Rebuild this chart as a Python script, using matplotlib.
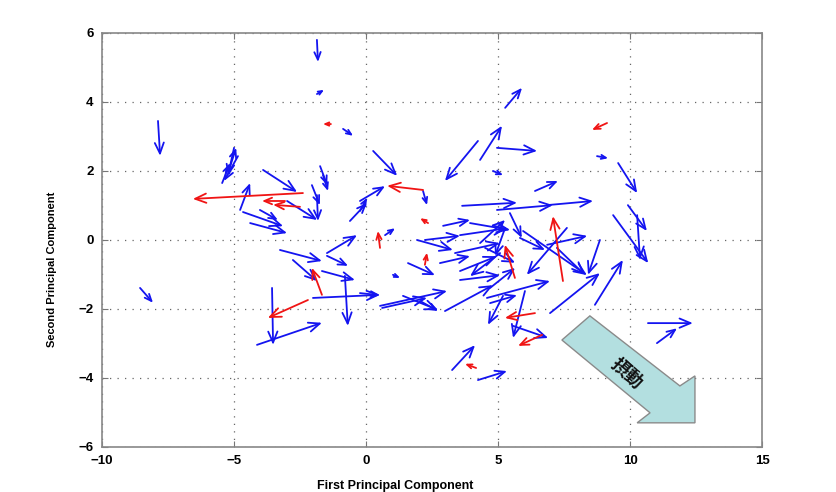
import numpy as np
import matplotlib
matplotlib.use("Agg")
import matplotlib.pyplot as plt
from matplotlib.patches import Polygon

# ---- data ----
blue_x = [-1.86, -1.86, -0.87, -7.88, -5.19, -4.85, -5.45, -5.00, -4.77, -3.90,
          -2.99, -1.74, -1.63, -2.05, -1.86, -4.66, -4.39, -4.02, -0.61, -0.23,
          2.16, 0.72, 1.02, 1.59, -0.23, 0.61, 1.40, 2.99, 3.56, 3.56,
          4.58, 5.19, 6.02, 5.57, 3.26, 4.24, 10.68, 11.02, 5.27, 4.32,
          4.24, 4.96, 0.27, 8.75, 9.55, 4.81, 6.40, 3.64, 4.96, 6.86,
          9.92, 9.36, 10.27, 8.86, 7.23, 6.97, 8.67, 6.86, 2.92, 2.23,
          5.95, 7.61, 1.93, 3.56, 0.53, 2.05, 4.70, -3.26, -2.77, -1.48,
          -1.48, -1.67, -2.01, -0.80, -3.56, -4.13, -8.56, 3.94, 4.32, 5.27,
          4.51, 5.08, 5.83, 3.37, 5.45, -0.23, 2.80, 4.70]
blue_y = [5.80, 4.23, 3.22, 3.45, 2.03, 2.43, 1.65, 2.67, 0.87, 2.03,
          1.13, 2.14, 1.88, 1.59, 1.30, 0.81, 0.49, 0.87, 0.55, 1.13,
          1.42, 0.14, -1.01, -0.67, -1.54, -1.97, -1.62, -2.06, -1.16, -0.90,
          -1.68, -1.62, -1.48, -2.49, -3.77, -4.06, -2.41, -2.99, 3.83, 2.32,
          2.87, 2.67, 2.58, 2.43, 2.23, 2.00, 1.42, 0.99, 0.87, 1.01,
          1.01, 0.72, 0.72, 0.00, -0.23, -2.12, -1.88, -0.14, 0.41, 0.00,
          0.26, 0.35, 0.00, 0.14, -1.91, -1.77, -1.83, -0.29, -0.58, -0.38,
          -0.46, -0.90, -1.68, -1.04, -1.39, -3.04, -1.39, 0.49, -0.09, 0.35,
          -0.23, -0.38, 0.06, -0.38, 0.78, 0.84, -0.67, -1.39]
blue_u = [0.04, 0.27, 0.38, 0.08, 0.27, -0.53, 0.30, -0.23, 0.38, 1.29,
          1.14, 0.27, 0.19, 0.30, 0.04, 1.52, 1.40, 0.68, 0.64, 0.95,
          0.15, 0.38, 0.27, 1.02, 0.76, 1.70, 1.33, 1.82, 1.52, 1.40,
          2.39, -0.57, -0.45, 1.33, 0.87, 1.10, 1.70, 0.76, 0.64, 0.83,
          -1.25, 1.52, 0.91, 0.42, 0.72, 0.38, 0.87, 2.08, 2.12, 1.74,
          0.72, 1.33, 0.11, -0.45, 1.06, 1.89, 1.06, 1.52, 1.02, 1.33,
          2.42, -1.52, 1.36, 1.78, 2.54, 0.68, 1.02, 1.59, 0.91, 1.14,
          0.80, 1.25, 2.54, 0.11, 0.04, 2.46, 0.49, 1.52, 0.95, -0.38,
          1.14, -1.14, 0.95, 1.70, 0.45, 0.27, 1.14, 0.95]
blue_v = [-0.64, 0.12, -0.20, -1.01, 0.64, -0.72, 0.58, -0.81, 0.78, -0.64,
          -0.55, -0.55, -0.46, -0.58, -0.75, -0.41, -0.29, -0.29, 0.52, 0.43,
          -0.41, 0.20, -0.09, -0.35, -0.06, 0.29, -0.41, 0.75, 0.14, 0.43,
          0.49, -0.84, -1.36, -0.35, 0.72, 0.26, 0.00, 0.43, 0.58, 0.99,
          -1.16, -0.09, -0.72, -0.06, -0.87, -0.12, 0.29, 0.09, 0.14, 0.12,
          -0.75, -1.39, -1.30, -1.01, -0.78, 1.16, 1.30, 0.26, 0.17, 0.12,
          -1.28, -1.36, -0.29, 0.20, 0.43, -0.29, 0.23, -0.32, -0.61, 0.52,
          -0.29, -0.26, 0.09, -1.45, -1.65, 0.64, -0.43, -0.20, 0.67, -0.81,
          -0.43, -0.67, -0.35, 0.29, -0.72, 0.38, 0.20, 0.58]

red_x = [-1.33, -2.39, -2.50, -3.07, 2.16, 2.35, 0.53, 2.23, 5.64, 7.46,
         6.40, 6.67, 4.17, 9.13, -1.67, -2.20]
red_y = [3.36, 1.36, 0.96, 1.13, 1.45, 0.49, -0.23, -0.72, -1.10, -1.19,
         -2.12, -2.75, -3.71, 3.39, -1.59, -1.74]
red_u = [-0.30, -4.17, -1.02, -0.87, -1.36, -0.30, -0.08, 0.08, -0.38, -0.38,
         -1.14, -0.91, -0.42, -0.57, -0.38, -1.52]
red_v = [0.00, -0.17, 0.06, 0.00, 0.12, 0.14, 0.49, 0.35, 0.96, 1.88,
         -0.14, -0.32, 0.12, -0.20, 0.78, -0.52]

x_ticks = [-10, -5, 0, 5, 10, 15]
y_ticks = [-6, -4, -2, 0, 2, 4, 6]

# big "perturbation" arrow outline (data coordinates)
big_arrow = [(7.42, -2.90), (8.48, -2.20), (11.89, -4.23), (12.46, -3.94),
             (12.46, -5.30), (10.27, -5.30), (10.76, -5.01)]
big_arrow_label = "摂動"

plt.rcParams['font.family'] = ['Liberation Sans', 'DejaVu Sans']

fig = plt.figure(figsize=(8.37, 4.92), dpi=100)
ax = fig.add_axes([0.1219, 0.0915, 0.7885, 0.8415])
ax.set_xlim(-10, 15)
ax.set_ylim(-6, 6)
ax.set_xticks(x_ticks)
ax.set_yticks(y_ticks)
ax.set_xticklabels([f"{t}".replace("-", "\u2212") for t in x_ticks],
                   fontsize=9.5, fontweight='bold')
ax.set_yticklabels([f"{t}".replace("-", "\u2212") for t in y_ticks],
                   fontsize=9.5, fontweight='bold')
ax.tick_params(direction='in', top=True, right=True, length=4, color='#777777', pad=6)
for s in ax.spines.values():
    s.set_color('#888888')
    s.set_linewidth(1.2)
ax.grid(True, linestyle=(0, (1, 5)), color='#666666', linewidth=0.9)
ax.set_axisbelow(True)

ax.set_xlabel("First Principal Component", fontsize=9, fontweight='bold')
ax.xaxis.set_label_coords(0.444, -0.08)
ax.set_ylabel("Second Principal Component", fontsize=8, fontweight='bold')
ax.yaxis.set_label_coords(-0.068, 0.43)

fig.canvas.draw()
px_to_pt = 72.0 / fig.dpi


def draw_arrows(xs, ys, us, vs, color):
    for x, y, u, v in zip(xs, ys, us, vs):
        p0 = ax.transData.transform((x, y))
        p1 = ax.transData.transform((x + u, y + v))
        L = float(np.hypot(*(p1 - p0)))
        hl = float(np.clip(0.25 * L + 2.0, 3.0, 11.0)) * px_to_pt
        hw = 0.42 * hl
        ax.annotate('', xy=(x + u, y + v), xytext=(x, y),
                    arrowprops=dict(arrowstyle=f'->,head_length={hl:.2f},head_width={hw:.2f}',
                                    color=color, lw=1.3, shrinkA=0, shrinkB=0,
                                    mutation_scale=1))


draw_arrows(blue_x, blue_y, blue_u, blue_v, '#1414f0')
draw_arrows(red_x, red_y, red_u, red_v, '#f01414')

poly = Polygon(big_arrow, closed=True, facecolor='#b3dfe0', edgecolor='#8a8a8a',
               linewidth=1.0, zorder=5)
ax.add_patch(poly)
cx = np.mean([p[0] for p in big_arrow[:3]]) + 0.6
cy = np.mean([p[1] for p in big_arrow[:3]]) - 0.55
ax.text(9.9, -3.86, big_arrow_label, rotation=-42, ha='center', va='center',
        fontsize=13, fontweight='bold', color='#111111',
        family=['Noto Sans CJK JP', 'DejaVu Sans'], zorder=6)

fig.savefig("out.png", dpi=100)
